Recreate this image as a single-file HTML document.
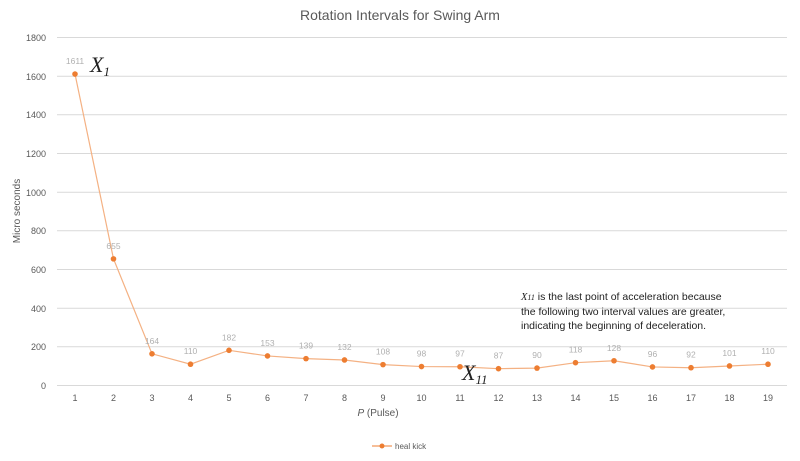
<!DOCTYPE html>
<html><head><style>body{margin:0;background:#fff}svg{display:block}</style></head><body>
<svg width="800" height="461" xmlns="http://www.w3.org/2000/svg" font-family="Liberation Sans, sans-serif">
<rect width="800" height="461" fill="#fff"/>
<text x="400" y="20" text-anchor="middle" font-size="14" fill="#595959">Rotation Intervals for Swing Arm</text>
<g stroke="#d9d9d9" stroke-width="1">
<line x1="57" x2="787" y1="37.5" y2="37.5"/><line x1="57" x2="787" y1="76.2" y2="76.2"/>
<line x1="57" x2="787" y1="114.8" y2="114.8"/><line x1="57" x2="787" y1="153.5" y2="153.5"/>
<line x1="57" x2="787" y1="192.2" y2="192.2"/><line x1="57" x2="787" y1="230.8" y2="230.8"/>
<line x1="57" x2="787" y1="269.5" y2="269.5"/><line x1="57" x2="787" y1="308.2" y2="308.2"/>
<line x1="57" x2="787" y1="346.8" y2="346.8"/><line x1="57" x2="787" y1="385.5" y2="385.5"/>
</g>
<g font-size="9" fill="#595959" text-anchor="end">
<text x="46" y="41">1800</text><text x="46" y="80">1600</text><text x="46" y="118">1400</text>
<text x="46" y="157">1200</text><text x="46" y="196">1000</text><text x="46" y="234">800</text>
<text x="46" y="273">600</text><text x="46" y="312">400</text><text x="46" y="350">200</text><text x="46" y="389">0</text>
</g>
<text transform="translate(20,211) rotate(-90)" font-size="10" fill="#595959" text-anchor="middle">Micro seconds</text>
<g font-size="9" fill="#595959" text-anchor="middle" id="xl"></g>
<text x="378" y="416" font-size="10" fill="#595959" text-anchor="middle"><tspan font-style="italic">P</tspan> (Pulse)</text>
<line x1="372" x2="392" y1="446" y2="446" stroke="#ed7d31"/><circle cx="382" cy="446" r="2.5" fill="#ed7d31"/>
<text x="395" y="449" font-size="8" fill="#595959">heal kick</text>
<polyline id="pl" fill="none" stroke="#f4b183" stroke-width="1.2"/>
<g id="pts"></g>
<text x="90" y="72" font-family="Liberation Serif, serif" font-style="italic" font-size="22" fill="#222">X<tspan font-size="13" dy="4">1</tspan></text>
<text x="462" y="380" font-family="Liberation Serif, serif" font-style="italic" font-size="22" fill="#222">X<tspan font-size="13" dy="4">11</tspan></text>
<g font-size="10.5" fill="#222">
<text x="521" y="300"><tspan font-family="Liberation Serif, serif" font-style="italic">X<tspan font-size="8">11</tspan></tspan> is the last point of acceleration because</text>
<text x="521" y="315">the following two interval values are greater,</text>
<text x="521" y="329">indicating the beginning of deceleration.</text>
</g>
<script>
var v=[1611,655,164,110,182,153,139,132,108,98,97,87,90,118,128,96,92,101,110];
var ns="http://www.w3.org/2000/svg",pts="",g=document.getElementById("pts"),xl=document.getElementById("xl");
v.forEach(function(d,i){var x=75+i*38.5,y=385.5-d*0.19333;pts+=x+","+y+" ";
var c=document.createElementNS(ns,"circle");c.setAttribute("cx",x);c.setAttribute("cy",y);c.setAttribute("r",2.8);c.setAttribute("fill","#ed7d31");g.appendChild(c);
var t=document.createElementNS(ns,"text");t.setAttribute("x",x);t.setAttribute("y",y-10);t.setAttribute("font-size","8.5");t.setAttribute("fill","#b0b0b0");t.setAttribute("text-anchor","middle");t.textContent=d;g.appendChild(t);
var l=document.createElementNS(ns,"text");l.setAttribute("x",x);l.setAttribute("y",401);l.textContent=i+1;xl.appendChild(l);});
document.getElementById("pl").setAttribute("points",pts);
</script>
</svg>
</body></html>
